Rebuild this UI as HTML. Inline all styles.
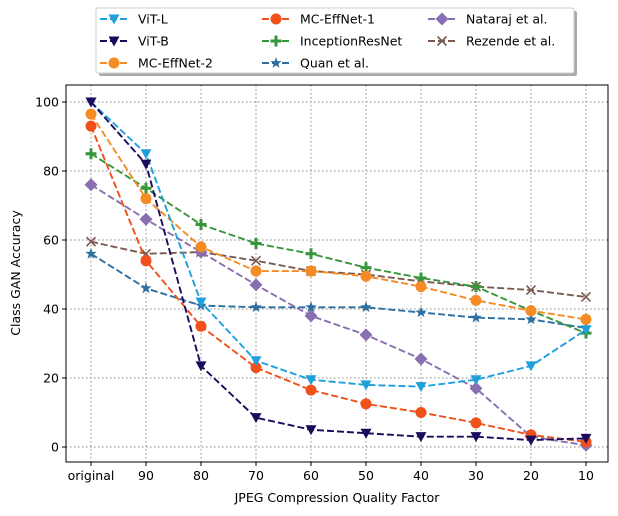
<!DOCTYPE html>
<html><head><meta charset="utf-8"><style>
body{margin:0;background:#fff;font-family:"Liberation Sans","DejaVu Sans",sans-serif}
svg{display:block}
text{font-family:"DejaVu Sans","Liberation Sans",sans-serif;font-size:12.5px;fill:#000}
</style></head><body>
<svg id="c" width="618" height="516"></svg>
<script>
const categories=["original","90","80","70","60","50","40","30","20","10"];
const yTicks=[0,20,40,60,80,100];
const seriesNames=["ViT-L","ViT-B","MC-EffNet-2","MC-EffNet-1","InceptionResNet","Quan et al.","Nataraj et al.","Rezende et al."];
const vitL=[100,85,42,25,19.5,18,17.5,19.5,23.5,34];
const vitB=[100,82,23.5,8.5,5,4,3,3,2,2.5];
const effnet2=[96.5,72,58,51,51,49.5,46.5,42.5,39.5,37];
const effnet1=[93,54,35,23,16.5,12.5,10,7,3.5,1.5];
const inception=[85,75,64.5,59,56,52,49,46.5,39.5,33];
const quan=[56,46,41,40.5,40.5,40.5,39,37.5,37,34.5];
const nataraj=[76,66,56.5,47,38,32.5,25.5,17,3,0.5];
const rezende=[59.5,56,56.5,54,51,50,48,46.5,45.5,43.5];
const seriesValues=[vitL,vitB,effnet2,effnet1,inception,quan,nataraj,rezende];
const colors=["#1f9fdc","#1c0b5c","#f58b24","#f0501a","#36963a","#2e6fa0","#8a6fb0","#7b5a52"];
const markers=["tri","tri","circle","circle","plus","star","diamond","x"];
const NS="http://www.w3.org/2000/svg";
const svg=document.getElementById("c");
const L=66,R=608,T=85,B=462;
const x=i=>91+i*55;
const y=v=>447-v*3.45;
function el(t,a,p){const e=document.createElementNS(NS,t);for(const k in a)e.setAttribute(k,a[k]);(p||svg).appendChild(e);return e;}
yTicks.forEach(v=>{
 const g=el("line",{x1:L,x2:R,y1:y(v),y2:y(v),stroke:"#888","stroke-dasharray":"1.5,2.5","stroke-width":1});
 
 
 el("line",{x1:L-4,x2:L,y1:y(v),y2:y(v),stroke:"#000"});
 const t=el("text",{x:L-7,y:y(v)+4.5,"text-anchor":"end"});t.textContent=v;
 
 
});
categories.forEach((c,i)=>{
 const g=el("line",{x1:x(i),x2:x(i),y1:T,y2:B,stroke:"#888","stroke-dasharray":"1.5,2.5","stroke-width":1});
 
 
 el("line",{x1:x(i),x2:x(i),y1:B,y2:B+4,stroke:"#000"});
 const t=el("text",{x:x(i),y:B+18,"text-anchor":"middle"});t.textContent=c;
 
 
});
function marker(type,cx,cy,col,parent){
 let m;
 if(type==="tri")m=el("polygon",{points:`${cx-5.5},${cy-4.5} ${cx+5.5},${cy-4.5} ${cx},${cy+5.5}`,fill:col},parent);
 else if(type==="circle")m=el("circle",{cx,cy,r:5.5,fill:col},parent);
 else if(type==="plus")m=el("path",{d:`M${cx-5.5} ${cy}H${cx+5.5}M${cx} ${cy-5.5}V${cy+5.5}`,stroke:col,"stroke-width":3},parent);
 else if(type==="star"){let p=[];for(let k=0;k<10;k++){const r=k%2?2.4:6,a=-Math.PI/2+k*Math.PI/5;p.push((cx+r*Math.cos(a)).toFixed(1)+","+(cy+r*Math.sin(a)).toFixed(1));}m=el("polygon",{points:p.join(" "),fill:col},parent);}
 else if(type==="diamond")m=el("polygon",{points:`${cx},${cy-6.5} ${cx+6.5},${cy} ${cx},${cy+6.5} ${cx-6.5},${cy}`,fill:col},parent);
 else m=el("path",{d:`M${cx-4.5} ${cy-4.5}L${cx+4.5} ${cy+4.5}M${cx-4.5} ${cy+4.5}L${cx+4.5} ${cy-4.5}`,stroke:col,"stroke-width":1.6},parent);
 return m;
}
[7,6,5,4,3,2,0,1].forEach(s=>{
 const g=el("g",{});
 
 
 const vals=seriesValues[s];
 el("polyline",{points:vals.map((v,i)=>x(i)+","+y(v)).join(" "),fill:"none",stroke:colors[s],"stroke-width":1.9,"stroke-dasharray":"7,3"},g);
 vals.forEach((v,i)=>{const m=marker(markers[s],x(i),y(v),colors[s],g);
  
  });
});
const fr=el("rect",{x:L,y:T,width:R-L,height:B-T,fill:"none",stroke:"#000","stroke-width":1});


const xt=el("text",{x:337,y:502,"text-anchor":"middle"});xt.textContent="JPEG Compression Quality Factor";


const yt=el("text",{x:20,y:273,"text-anchor":"middle",transform:"rotate(-90 20 273)"});yt.textContent="Class GAN Accuracy";


const lg=el("g",{});


el("rect",{x:99,y:11,width:478,height:65,fill:"#aaa",rx:2},lg);
el("rect",{x:96,y:8,width:478,height:65,fill:"#fff",stroke:"#ccc",rx:2},lg);
const colX=[100,262,428],rowY=[19,41,63];
seriesNames.forEach((nm,s)=>{
 const c=Math.floor(s/3),r=s%3;const lx=colX[c],ly=rowY[r];
 const e=el("g",{},lg);
 
 
 el("line",{x1:lx,x2:lx+28,y1:ly,y2:ly,stroke:colors[s],"stroke-width":1.9,"stroke-dasharray":"7,3"},e);
 marker(markers[s],lx+14,ly,colors[s],e);
 const t=el("text",{x:lx+38,y:ly+4.5},e);t.textContent=nm;
});
</script>
</body></html>
